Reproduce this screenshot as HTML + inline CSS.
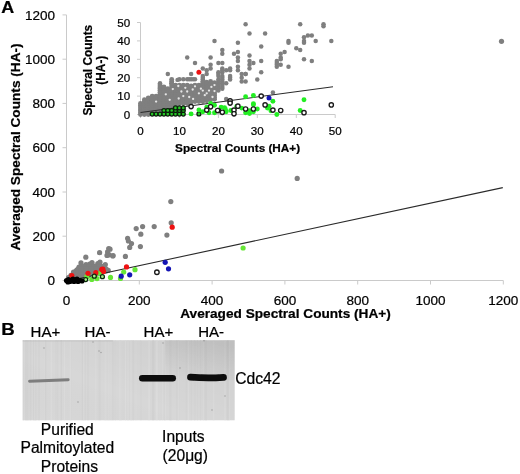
<!DOCTYPE html>
<html><head><meta charset="utf-8"><style>
html,body{margin:0;padding:0;background:#fff;}
svg{display:block;filter:blur(0.3px);}
text{font-family:"Liberation Sans",sans-serif;stroke:#000;stroke-width:0.22px;}
</style></head><body>
<svg width="520" height="474" viewBox="0 0 520 474">
<rect width="520" height="474" fill="#fff"/>
<g stroke="#cacaca" stroke-width="1" fill="none">
<path d="M66.5 14.9V280.5H503.3"/>
<path d="M62.5 280.5H66.5"/>
<path d="M66.5 280.5V284.5"/>
<path d="M62.5 236.2H66.5"/>
<path d="M139.3 280.5V284.5"/>
<path d="M62.5 192.0H66.5"/>
<path d="M212.1 280.5V284.5"/>
<path d="M62.5 147.7H66.5"/>
<path d="M284.9 280.5V284.5"/>
<path d="M62.5 103.4H66.5"/>
<path d="M357.7 280.5V284.5"/>
<path d="M62.5 59.2H66.5"/>
<path d="M430.5 280.5V284.5"/>
<path d="M62.5 14.9H66.5"/>
<path d="M503.3 280.5V284.5"/>
</g>
<g font-size="13.5" fill="#000">
<text x="55.1" y="285.1" text-anchor="end">0</text>
<text x="66.5" y="305.1" text-anchor="middle">0</text>
<text x="55.1" y="240.8" text-anchor="end">200</text>
<text x="139.3" y="305.1" text-anchor="middle">200</text>
<text x="55.1" y="196.6" text-anchor="end">400</text>
<text x="212.1" y="305.1" text-anchor="middle">400</text>
<text x="55.1" y="152.3" text-anchor="end">600</text>
<text x="284.9" y="305.1" text-anchor="middle">600</text>
<text x="55.1" y="108.0" text-anchor="end">800</text>
<text x="357.7" y="305.1" text-anchor="middle">800</text>
<text x="55.1" y="63.8" text-anchor="end">1000</text>
<text x="430.5" y="305.1" text-anchor="middle">1000</text>
<text x="55.1" y="19.5" text-anchor="end">1200</text>
<text x="503.3" y="305.1" text-anchor="middle">1200</text>
</g>
<text x="285.5" y="317.7" text-anchor="middle" font-size="13.65" font-weight="bold">Averaged Spectral Counts (HA+)</text>
<text transform="translate(20 147) rotate(-90)" text-anchor="middle" font-size="13.65" font-weight="bold">Averaged Spectral Counts (HA-)</text>
<circle cx="501.5" cy="41.3" r="2.6" fill="#7f7f7f"/>
<circle cx="221.6" cy="171.0" r="2.6" fill="#7f7f7f"/>
<circle cx="297.2" cy="178.4" r="2.6" fill="#7f7f7f"/>
<circle cx="170.8" cy="201.6" r="2.6" fill="#7f7f7f"/>
<circle cx="171.2" cy="222.8" r="2.6" fill="#7f7f7f"/>
<circle cx="142.6" cy="226.6" r="2.6" fill="#7f7f7f"/>
<circle cx="136.2" cy="228.6" r="2.6" fill="#7f7f7f"/>
<circle cx="154.2" cy="226.6" r="2.6" fill="#7f7f7f"/>
<circle cx="140.8" cy="234.2" r="2.6" fill="#7f7f7f"/>
<circle cx="166.9" cy="235.1" r="2.6" fill="#7f7f7f"/>
<circle cx="127.6" cy="238.3" r="2.6" fill="#7f7f7f"/>
<circle cx="128.4" cy="241.0" r="2.6" fill="#7f7f7f"/>
<circle cx="131.5" cy="243.6" r="2.6" fill="#7f7f7f"/>
<circle cx="129.7" cy="247.4" r="2.6" fill="#7f7f7f"/>
<circle cx="140.4" cy="246.6" r="2.6" fill="#7f7f7f"/>
<circle cx="125.4" cy="256.4" r="2.6" fill="#7f7f7f"/>
<circle cx="113.1" cy="255.6" r="2.6" fill="#7f7f7f"/>
<circle cx="110.0" cy="249.2" r="2.6" fill="#7f7f7f"/>
<circle cx="108.7" cy="248.5" r="2.6" fill="#7f7f7f"/>
<circle cx="107.6" cy="251.9" r="2.6" fill="#7f7f7f"/>
<circle cx="99.6" cy="252.7" r="2.6" fill="#7f7f7f"/>
<circle cx="109.3" cy="254.8" r="2.6" fill="#7f7f7f"/>
<circle cx="112.8" cy="256.0" r="2.6" fill="#7f7f7f"/>
<circle cx="107.0" cy="255.4" r="2.6" fill="#7f7f7f"/>
<circle cx="85.8" cy="257.2" r="2.6" fill="#7f7f7f"/>
<circle cx="81.0" cy="262.9" r="2.6" fill="#7f7f7f"/>
<circle cx="89.7" cy="264.0" r="2.6" fill="#7f7f7f"/>
<circle cx="97.8" cy="263.5" r="2.6" fill="#7f7f7f"/>
<circle cx="105.3" cy="264.6" r="2.6" fill="#7f7f7f"/>
<circle cx="77.0" cy="269.8" r="2.6" fill="#7f7f7f"/>
<circle cx="85.0" cy="267.5" r="2.6" fill="#7f7f7f"/>
<circle cx="92.0" cy="268.7" r="2.6" fill="#7f7f7f"/>
<circle cx="73.5" cy="272.1" r="2.6" fill="#7f7f7f"/>
<circle cx="108.2" cy="270.4" r="2.6" fill="#7f7f7f"/>
<circle cx="101.0" cy="266.0" r="2.6" fill="#7f7f7f"/>
<circle cx="94.0" cy="266.0" r="2.6" fill="#7f7f7f"/>
<circle cx="88.0" cy="270.0" r="2.6" fill="#7f7f7f"/>
<circle cx="80.0" cy="272.0" r="2.6" fill="#7f7f7f"/>
<circle cx="84.0" cy="273.5" r="2.6" fill="#7f7f7f"/>
<circle cx="76.0" cy="275.0" r="2.6" fill="#7f7f7f"/>
<circle cx="70.0" cy="277.0" r="2.6" fill="#7f7f7f"/>
<circle cx="96.0" cy="269.5" r="2.6" fill="#7f7f7f"/>
<circle cx="92.0" cy="262.5" r="2.6" fill="#7f7f7f"/>
<circle cx="86.0" cy="264.5" r="2.6" fill="#7f7f7f"/>
<circle cx="100.0" cy="262.0" r="2.6" fill="#7f7f7f"/>
<circle cx="104.0" cy="268.0" r="2.6" fill="#7f7f7f"/>
<circle cx="79.0" cy="267.0" r="2.6" fill="#7f7f7f"/>
<circle cx="82.0" cy="270.0" r="2.6" fill="#7f7f7f"/>
<circle cx="81.0" cy="266.6" r="2.6" fill="#7f7f7f"/>
<circle cx="83.5" cy="266.6" r="2.6" fill="#7f7f7f"/>
<circle cx="86.0" cy="266.6" r="2.6" fill="#7f7f7f"/>
<circle cx="88.5" cy="266.6" r="2.6" fill="#7f7f7f"/>
<circle cx="91.0" cy="266.6" r="2.6" fill="#7f7f7f"/>
<circle cx="93.5" cy="266.6" r="2.6" fill="#7f7f7f"/>
<circle cx="96.0" cy="266.6" r="2.6" fill="#7f7f7f"/>
<circle cx="98.5" cy="266.6" r="2.6" fill="#7f7f7f"/>
<circle cx="101.0" cy="266.6" r="2.6" fill="#7f7f7f"/>
<circle cx="103.5" cy="266.6" r="2.6" fill="#7f7f7f"/>
<circle cx="78.5" cy="268.8" r="2.6" fill="#7f7f7f"/>
<circle cx="81.0" cy="268.8" r="2.6" fill="#7f7f7f"/>
<circle cx="83.5" cy="268.8" r="2.6" fill="#7f7f7f"/>
<circle cx="86.0" cy="268.8" r="2.6" fill="#7f7f7f"/>
<circle cx="88.5" cy="268.8" r="2.6" fill="#7f7f7f"/>
<circle cx="91.0" cy="268.8" r="2.6" fill="#7f7f7f"/>
<circle cx="93.5" cy="268.8" r="2.6" fill="#7f7f7f"/>
<circle cx="96.0" cy="268.8" r="2.6" fill="#7f7f7f"/>
<circle cx="98.5" cy="268.8" r="2.6" fill="#7f7f7f"/>
<circle cx="101.0" cy="268.8" r="2.6" fill="#7f7f7f"/>
<circle cx="103.5" cy="268.8" r="2.6" fill="#7f7f7f"/>
<circle cx="106.0" cy="268.8" r="2.6" fill="#7f7f7f"/>
<circle cx="76.0" cy="271.0" r="2.6" fill="#7f7f7f"/>
<circle cx="78.5" cy="271.0" r="2.6" fill="#7f7f7f"/>
<circle cx="81.0" cy="271.0" r="2.6" fill="#7f7f7f"/>
<circle cx="83.5" cy="271.0" r="2.6" fill="#7f7f7f"/>
<circle cx="86.0" cy="271.0" r="2.6" fill="#7f7f7f"/>
<circle cx="88.5" cy="271.0" r="2.6" fill="#7f7f7f"/>
<circle cx="91.0" cy="271.0" r="2.6" fill="#7f7f7f"/>
<circle cx="93.5" cy="271.0" r="2.6" fill="#7f7f7f"/>
<circle cx="96.0" cy="271.0" r="2.6" fill="#7f7f7f"/>
<circle cx="98.5" cy="271.0" r="2.6" fill="#7f7f7f"/>
<circle cx="101.0" cy="271.0" r="2.6" fill="#7f7f7f"/>
<circle cx="103.5" cy="271.0" r="2.6" fill="#7f7f7f"/>
<circle cx="106.0" cy="271.0" r="2.6" fill="#7f7f7f"/>
<circle cx="73.5" cy="273.2" r="2.6" fill="#7f7f7f"/>
<circle cx="76.0" cy="273.2" r="2.6" fill="#7f7f7f"/>
<circle cx="78.5" cy="273.2" r="2.6" fill="#7f7f7f"/>
<circle cx="81.0" cy="273.2" r="2.6" fill="#7f7f7f"/>
<circle cx="83.5" cy="273.2" r="2.6" fill="#7f7f7f"/>
<circle cx="86.0" cy="273.2" r="2.6" fill="#7f7f7f"/>
<circle cx="88.5" cy="273.2" r="2.6" fill="#7f7f7f"/>
<circle cx="91.0" cy="273.2" r="2.6" fill="#7f7f7f"/>
<circle cx="93.5" cy="273.2" r="2.6" fill="#7f7f7f"/>
<circle cx="96.0" cy="273.2" r="2.6" fill="#7f7f7f"/>
<circle cx="98.5" cy="273.2" r="2.6" fill="#7f7f7f"/>
<circle cx="101.0" cy="273.2" r="2.6" fill="#7f7f7f"/>
<circle cx="71.0" cy="275.4" r="2.6" fill="#7f7f7f"/>
<circle cx="73.5" cy="275.4" r="2.6" fill="#7f7f7f"/>
<circle cx="76.0" cy="275.4" r="2.6" fill="#7f7f7f"/>
<circle cx="78.5" cy="275.4" r="2.6" fill="#7f7f7f"/>
<circle cx="81.0" cy="275.4" r="2.6" fill="#7f7f7f"/>
<circle cx="83.5" cy="275.4" r="2.6" fill="#7f7f7f"/>
<circle cx="86.0" cy="275.4" r="2.6" fill="#7f7f7f"/>
<circle cx="88.5" cy="275.4" r="2.6" fill="#7f7f7f"/>
<circle cx="68.5" cy="277.6" r="2.6" fill="#7f7f7f"/>
<circle cx="71.0" cy="277.6" r="2.6" fill="#7f7f7f"/>
<circle cx="73.5" cy="277.6" r="2.6" fill="#7f7f7f"/>
<circle cx="76.0" cy="277.6" r="2.6" fill="#7f7f7f"/>
<circle cx="78.5" cy="277.6" r="2.6" fill="#7f7f7f"/>
<circle cx="81.0" cy="277.6" r="2.6" fill="#7f7f7f"/>
<circle cx="71.0" cy="279.8" r="2.6" fill="#7f7f7f"/>
<path d="M66.5 281.3L502.8 187.6" stroke="#2a2a2a" stroke-width="1.1" fill="none"/>
<circle cx="243.1" cy="248.0" r="2.6" fill="#66e636"/>
<circle cx="135.0" cy="269.7" r="2.6" fill="#66e636"/>
<circle cx="123.7" cy="272.0" r="2.6" fill="#66e636"/>
<circle cx="110.5" cy="277.4" r="2.6" fill="#66e636"/>
<circle cx="120.5" cy="278.5" r="2.6" fill="#66e636"/>
<circle cx="91.8" cy="279.4" r="2.6" fill="#66e636"/>
<circle cx="100.0" cy="273.3" r="2.6" fill="#66e636"/>
<circle cx="86.8" cy="276.7" r="2.6" fill="#66e636"/>
<circle cx="97.0" cy="278.6" r="2.6" fill="#66e636"/>
<circle cx="172.2" cy="227.2" r="2.6" fill="#ee1111"/>
<circle cx="126.5" cy="266.9" r="2.6" fill="#ee1111"/>
<circle cx="102.9" cy="269.2" r="2.6" fill="#ee1111"/>
<circle cx="95.8" cy="272.7" r="2.6" fill="#ee1111"/>
<circle cx="71.8" cy="275.6" r="2.6" fill="#ee1111"/>
<circle cx="88.0" cy="273.3" r="2.6" fill="#ee1111"/>
<circle cx="101.8" cy="269.4" r="2.6" fill="#ee1111"/>
<circle cx="103.5" cy="271.5" r="2.6" fill="#ee1111"/>
<circle cx="165.2" cy="262.3" r="2.6" fill="#1414b4"/>
<circle cx="168.5" cy="268.8" r="2.6" fill="#1414b4"/>
<circle cx="129.7" cy="274.8" r="2.6" fill="#1414b4"/>
<circle cx="121.2" cy="276.2" r="2.6" fill="#1414b4"/>
<circle cx="156.9" cy="272.2" r="2.25" fill="#fff" stroke="#1a1a1a" stroke-width="1.35"/>
<circle cx="102.4" cy="276.7" r="2.0" fill="#a8f08a" stroke="#0c2c0c" stroke-width="1.3"/>
<circle cx="94.3" cy="276.2" r="2.0" fill="#a8f08a" stroke="#0c2c0c" stroke-width="1.3"/>
<circle cx="85.7" cy="279.6" r="2.0" fill="#a8f08a" stroke="#0c2c0c" stroke-width="1.3"/>
<circle cx="66.5" cy="280.6" r="2.6" fill="#000"/>
<circle cx="68.5" cy="279.5" r="2.6" fill="#000"/>
<circle cx="70.0" cy="281.5" r="2.6" fill="#000"/>
<circle cx="72.0" cy="280.0" r="2.6" fill="#000"/>
<circle cx="74.0" cy="281.5" r="2.6" fill="#000"/>
<circle cx="76.0" cy="280.0" r="2.6" fill="#000"/>
<circle cx="78.0" cy="281.5" r="2.6" fill="#000"/>
<circle cx="80.0" cy="280.5" r="2.6" fill="#000"/>
<circle cx="82.0" cy="281.0" r="2.6" fill="#000"/>
<circle cx="68.0" cy="282.0" r="2.6" fill="#000"/>
<circle cx="73.0" cy="279.0" r="2.6" fill="#000"/>
<circle cx="77.0" cy="279.0" r="2.6" fill="#000"/>
<g stroke="#cacaca" stroke-width="1" fill="none">
<path d="M140.5 22.5V114.5H335.2"/>
<path d="M137.0 114.5H140.5"/>
<path d="M140.5 114.5V118.0"/>
<path d="M137.0 96.1H140.5"/>
<path d="M179.4 114.5V118.0"/>
<path d="M137.0 77.7H140.5"/>
<path d="M218.4 114.5V118.0"/>
<path d="M137.0 59.3H140.5"/>
<path d="M257.3 114.5V118.0"/>
<path d="M137.0 40.9H140.5"/>
<path d="M296.3 114.5V118.0"/>
<path d="M137.0 22.5H140.5"/>
<path d="M335.2 114.5V118.0"/>
</g>
<g font-size="11.6" fill="#000">
<text x="130.2" y="118.6" text-anchor="end">0</text>
<text x="140.5" y="135.4" text-anchor="middle">0</text>
<text x="130.2" y="100.2" text-anchor="end">10</text>
<text x="179.4" y="135.4" text-anchor="middle">10</text>
<text x="130.2" y="81.8" text-anchor="end">20</text>
<text x="218.4" y="135.4" text-anchor="middle">20</text>
<text x="130.2" y="63.4" text-anchor="end">30</text>
<text x="257.3" y="135.4" text-anchor="middle">30</text>
<text x="130.2" y="45.0" text-anchor="end">40</text>
<text x="296.3" y="135.4" text-anchor="middle">40</text>
<text x="130.2" y="26.6" text-anchor="end">50</text>
<text x="335.2" y="135.4" text-anchor="middle">50</text>
</g>
<text x="237.6" y="151.8" text-anchor="middle" font-size="11.75" font-weight="bold">Spectral Counts (HA+)</text>
<text transform="translate(92.2 70.2) rotate(-90)" text-anchor="middle" font-size="11.85" font-weight="bold">Spectral Counts</text>
<text transform="translate(105 70.2) rotate(-90)" text-anchor="middle" font-size="11.85" font-weight="bold">(HA-)</text>
<circle cx="300.2" cy="24.3" r="2.25" fill="#7f7f7f"/>
<circle cx="323.5" cy="24.3" r="2.25" fill="#7f7f7f"/>
<circle cx="323.5" cy="26.2" r="2.25" fill="#7f7f7f"/>
<circle cx="304.0" cy="37.2" r="2.25" fill="#7f7f7f"/>
<circle cx="307.9" cy="35.4" r="2.25" fill="#7f7f7f"/>
<circle cx="311.8" cy="35.4" r="2.25" fill="#7f7f7f"/>
<circle cx="304.0" cy="40.9" r="2.25" fill="#7f7f7f"/>
<circle cx="304.0" cy="42.7" r="2.25" fill="#7f7f7f"/>
<circle cx="315.7" cy="40.9" r="2.25" fill="#7f7f7f"/>
<circle cx="331.3" cy="40.9" r="2.25" fill="#7f7f7f"/>
<circle cx="288.5" cy="40.9" r="2.25" fill="#7f7f7f"/>
<circle cx="288.5" cy="42.7" r="2.25" fill="#7f7f7f"/>
<circle cx="296.3" cy="48.3" r="2.25" fill="#7f7f7f"/>
<circle cx="300.2" cy="50.1" r="2.25" fill="#7f7f7f"/>
<circle cx="284.6" cy="51.9" r="2.25" fill="#7f7f7f"/>
<circle cx="280.7" cy="53.8" r="2.25" fill="#7f7f7f"/>
<circle cx="280.7" cy="57.5" r="2.25" fill="#7f7f7f"/>
<circle cx="280.7" cy="59.3" r="2.25" fill="#7f7f7f"/>
<circle cx="276.8" cy="63.0" r="2.25" fill="#7f7f7f"/>
<circle cx="280.7" cy="64.8" r="2.25" fill="#7f7f7f"/>
<circle cx="276.8" cy="66.7" r="2.25" fill="#7f7f7f"/>
<circle cx="304.0" cy="59.3" r="2.25" fill="#7f7f7f"/>
<circle cx="311.8" cy="61.1" r="2.25" fill="#7f7f7f"/>
<circle cx="288.5" cy="66.7" r="2.25" fill="#7f7f7f"/>
<circle cx="245.6" cy="24.3" r="2.25" fill="#7f7f7f"/>
<circle cx="249.5" cy="33.5" r="2.25" fill="#7f7f7f"/>
<circle cx="265.1" cy="33.5" r="2.25" fill="#7f7f7f"/>
<circle cx="214.5" cy="40.9" r="2.25" fill="#7f7f7f"/>
<circle cx="237.9" cy="42.7" r="2.25" fill="#7f7f7f"/>
<circle cx="261.2" cy="46.4" r="2.25" fill="#7f7f7f"/>
<circle cx="222.3" cy="50.1" r="2.25" fill="#7f7f7f"/>
<circle cx="222.3" cy="53.8" r="2.25" fill="#7f7f7f"/>
<circle cx="234.0" cy="53.8" r="2.25" fill="#7f7f7f"/>
<circle cx="237.9" cy="51.9" r="2.25" fill="#7f7f7f"/>
<circle cx="210.6" cy="57.5" r="2.25" fill="#7f7f7f"/>
<circle cx="249.5" cy="55.6" r="2.25" fill="#7f7f7f"/>
<circle cx="261.2" cy="61.1" r="2.25" fill="#7f7f7f"/>
<circle cx="237.9" cy="61.1" r="2.25" fill="#7f7f7f"/>
<circle cx="237.9" cy="66.7" r="2.25" fill="#7f7f7f"/>
<circle cx="237.9" cy="70.3" r="2.25" fill="#7f7f7f"/>
<circle cx="249.5" cy="61.1" r="2.25" fill="#7f7f7f"/>
<circle cx="253.4" cy="63.0" r="2.25" fill="#7f7f7f"/>
<circle cx="249.5" cy="64.8" r="2.25" fill="#7f7f7f"/>
<circle cx="249.5" cy="68.5" r="2.25" fill="#7f7f7f"/>
<circle cx="218.4" cy="63.0" r="2.25" fill="#7f7f7f"/>
<circle cx="222.3" cy="63.0" r="2.25" fill="#7f7f7f"/>
<circle cx="210.6" cy="64.8" r="2.25" fill="#7f7f7f"/>
<circle cx="210.6" cy="68.5" r="2.25" fill="#7f7f7f"/>
<circle cx="222.3" cy="68.5" r="2.25" fill="#7f7f7f"/>
<circle cx="226.2" cy="70.3" r="2.25" fill="#7f7f7f"/>
<circle cx="230.1" cy="68.5" r="2.25" fill="#7f7f7f"/>
<circle cx="230.1" cy="70.3" r="2.25" fill="#7f7f7f"/>
<circle cx="218.4" cy="72.2" r="2.25" fill="#7f7f7f"/>
<circle cx="218.4" cy="74.0" r="2.25" fill="#7f7f7f"/>
<circle cx="261.2" cy="72.2" r="2.25" fill="#7f7f7f"/>
<circle cx="245.6" cy="74.0" r="2.25" fill="#7f7f7f"/>
<circle cx="276.8" cy="61.1" r="2.25" fill="#7f7f7f"/>
<circle cx="276.8" cy="64.8" r="2.25" fill="#7f7f7f"/>
<circle cx="237.9" cy="57.5" r="2.25" fill="#7f7f7f"/>
<circle cx="187.2" cy="57.5" r="2.25" fill="#7f7f7f"/>
<circle cx="195.0" cy="63.0" r="2.25" fill="#7f7f7f"/>
<circle cx="202.8" cy="68.5" r="2.25" fill="#7f7f7f"/>
<circle cx="206.7" cy="70.3" r="2.25" fill="#7f7f7f"/>
<circle cx="206.7" cy="74.0" r="2.25" fill="#7f7f7f"/>
<circle cx="191.1" cy="74.0" r="2.25" fill="#7f7f7f"/>
<circle cx="167.8" cy="74.0" r="2.25" fill="#7f7f7f"/>
<circle cx="202.8" cy="75.9" r="2.25" fill="#7f7f7f"/>
<circle cx="202.8" cy="77.7" r="2.25" fill="#7f7f7f"/>
<circle cx="257.3" cy="79.5" r="2.25" fill="#7f7f7f"/>
<circle cx="245.6" cy="81.4" r="2.25" fill="#7f7f7f"/>
<circle cx="272.9" cy="92.4" r="2.25" fill="#7f7f7f"/>
<circle cx="160.0" cy="83.2" r="2.25" fill="#7f7f7f"/>
<circle cx="171.7" cy="83.2" r="2.25" fill="#7f7f7f"/>
<circle cx="222.3" cy="72.2" r="2.25" fill="#7f7f7f"/>
<circle cx="222.3" cy="70.3" r="2.25" fill="#7f7f7f"/>
<circle cx="218.4" cy="75.9" r="2.25" fill="#7f7f7f"/>
<circle cx="222.3" cy="75.9" r="2.25" fill="#7f7f7f"/>
<circle cx="222.3" cy="77.7" r="2.25" fill="#7f7f7f"/>
<circle cx="222.3" cy="79.5" r="2.25" fill="#7f7f7f"/>
<circle cx="222.3" cy="81.4" r="2.25" fill="#7f7f7f"/>
<circle cx="222.3" cy="83.2" r="2.25" fill="#7f7f7f"/>
<circle cx="222.3" cy="85.1" r="2.25" fill="#7f7f7f"/>
<circle cx="222.3" cy="86.9" r="2.25" fill="#7f7f7f"/>
<circle cx="222.3" cy="88.7" r="2.25" fill="#7f7f7f"/>
<circle cx="226.2" cy="83.2" r="2.25" fill="#7f7f7f"/>
<circle cx="230.1" cy="79.5" r="2.25" fill="#7f7f7f"/>
<circle cx="230.1" cy="77.7" r="2.25" fill="#7f7f7f"/>
<circle cx="230.1" cy="75.9" r="2.25" fill="#7f7f7f"/>
<circle cx="218.4" cy="79.5" r="2.25" fill="#7f7f7f"/>
<circle cx="218.4" cy="81.4" r="2.25" fill="#7f7f7f"/>
<circle cx="218.4" cy="83.2" r="2.25" fill="#7f7f7f"/>
<circle cx="218.4" cy="85.1" r="2.25" fill="#7f7f7f"/>
<circle cx="218.4" cy="86.9" r="2.25" fill="#7f7f7f"/>
<circle cx="218.4" cy="88.7" r="2.25" fill="#7f7f7f"/>
<circle cx="218.4" cy="90.6" r="2.25" fill="#7f7f7f"/>
<circle cx="241.7" cy="81.4" r="2.25" fill="#7f7f7f"/>
<circle cx="241.7" cy="77.7" r="2.25" fill="#7f7f7f"/>
<circle cx="241.7" cy="74.0" r="2.25" fill="#7f7f7f"/>
<circle cx="226.2" cy="98.9" r="2.25" fill="#7f7f7f"/>
<circle cx="245.6" cy="74.0" r="2.25" fill="#7f7f7f"/>
<circle cx="179.4" cy="79.2" r="2.25" fill="#7f7f7f"/>
<circle cx="183.3" cy="79.2" r="2.25" fill="#7f7f7f"/>
<circle cx="187.2" cy="79.2" r="2.25" fill="#7f7f7f"/>
<circle cx="191.1" cy="79.2" r="2.25" fill="#7f7f7f"/>
<circle cx="195.0" cy="79.2" r="2.25" fill="#7f7f7f"/>
<circle cx="202.8" cy="79.2" r="2.25" fill="#7f7f7f"/>
<circle cx="189.2" cy="79.2" r="2.25" fill="#7f7f7f"/>
<circle cx="193.1" cy="79.2" r="2.25" fill="#7f7f7f"/>
<circle cx="140.5" cy="114.5" r="2.45" fill="#7f7f7f"/>
<circle cx="140.5" cy="112.7" r="2.45" fill="#7f7f7f"/>
<circle cx="140.5" cy="110.8" r="2.45" fill="#7f7f7f"/>
<circle cx="140.5" cy="109.0" r="2.45" fill="#7f7f7f"/>
<circle cx="140.5" cy="107.1" r="2.45" fill="#7f7f7f"/>
<circle cx="140.5" cy="105.3" r="2.45" fill="#7f7f7f"/>
<circle cx="140.5" cy="103.5" r="2.45" fill="#7f7f7f"/>
<circle cx="144.4" cy="114.5" r="2.45" fill="#7f7f7f"/>
<circle cx="144.4" cy="112.7" r="2.45" fill="#7f7f7f"/>
<circle cx="144.4" cy="110.8" r="2.45" fill="#7f7f7f"/>
<circle cx="144.4" cy="109.0" r="2.45" fill="#7f7f7f"/>
<circle cx="144.4" cy="107.1" r="2.45" fill="#7f7f7f"/>
<circle cx="144.4" cy="105.3" r="2.45" fill="#7f7f7f"/>
<circle cx="144.4" cy="103.5" r="2.45" fill="#7f7f7f"/>
<circle cx="144.4" cy="101.6" r="2.45" fill="#7f7f7f"/>
<circle cx="144.4" cy="99.8" r="2.45" fill="#7f7f7f"/>
<circle cx="148.3" cy="114.5" r="2.45" fill="#7f7f7f"/>
<circle cx="148.3" cy="112.7" r="2.45" fill="#7f7f7f"/>
<circle cx="148.3" cy="110.8" r="2.45" fill="#7f7f7f"/>
<circle cx="148.3" cy="109.0" r="2.45" fill="#7f7f7f"/>
<circle cx="148.3" cy="107.1" r="2.45" fill="#7f7f7f"/>
<circle cx="148.3" cy="105.3" r="2.45" fill="#7f7f7f"/>
<circle cx="148.3" cy="103.5" r="2.45" fill="#7f7f7f"/>
<circle cx="148.3" cy="101.6" r="2.45" fill="#7f7f7f"/>
<circle cx="148.3" cy="99.8" r="2.45" fill="#7f7f7f"/>
<circle cx="148.3" cy="97.9" r="2.45" fill="#7f7f7f"/>
<circle cx="152.2" cy="110.8" r="2.45" fill="#7f7f7f"/>
<circle cx="152.2" cy="109.0" r="2.45" fill="#7f7f7f"/>
<circle cx="152.2" cy="107.1" r="2.45" fill="#7f7f7f"/>
<circle cx="152.2" cy="105.3" r="2.45" fill="#7f7f7f"/>
<circle cx="152.2" cy="103.5" r="2.45" fill="#7f7f7f"/>
<circle cx="152.2" cy="101.6" r="2.45" fill="#7f7f7f"/>
<circle cx="152.2" cy="99.8" r="2.45" fill="#7f7f7f"/>
<circle cx="152.2" cy="97.9" r="2.45" fill="#7f7f7f"/>
<circle cx="152.2" cy="96.1" r="2.45" fill="#7f7f7f"/>
<circle cx="156.1" cy="110.8" r="2.45" fill="#7f7f7f"/>
<circle cx="156.1" cy="109.0" r="2.45" fill="#7f7f7f"/>
<circle cx="156.1" cy="107.1" r="2.45" fill="#7f7f7f"/>
<circle cx="156.1" cy="105.3" r="2.45" fill="#7f7f7f"/>
<circle cx="156.1" cy="103.5" r="2.45" fill="#7f7f7f"/>
<circle cx="156.1" cy="101.6" r="2.45" fill="#7f7f7f"/>
<circle cx="156.1" cy="99.8" r="2.45" fill="#7f7f7f"/>
<circle cx="156.1" cy="97.9" r="2.45" fill="#7f7f7f"/>
<circle cx="156.1" cy="96.1" r="2.45" fill="#7f7f7f"/>
<circle cx="160.0" cy="110.8" r="2.45" fill="#7f7f7f"/>
<circle cx="160.0" cy="109.0" r="2.45" fill="#7f7f7f"/>
<circle cx="160.0" cy="107.1" r="2.45" fill="#7f7f7f"/>
<circle cx="160.0" cy="105.3" r="2.45" fill="#7f7f7f"/>
<circle cx="160.0" cy="103.5" r="2.45" fill="#7f7f7f"/>
<circle cx="160.0" cy="101.6" r="2.45" fill="#7f7f7f"/>
<circle cx="160.0" cy="99.8" r="2.45" fill="#7f7f7f"/>
<circle cx="160.0" cy="97.9" r="2.45" fill="#7f7f7f"/>
<circle cx="160.0" cy="96.1" r="2.45" fill="#7f7f7f"/>
<circle cx="160.0" cy="94.3" r="2.45" fill="#7f7f7f"/>
<circle cx="160.0" cy="92.4" r="2.45" fill="#7f7f7f"/>
<circle cx="160.0" cy="90.6" r="2.45" fill="#7f7f7f"/>
<circle cx="160.0" cy="88.7" r="2.45" fill="#7f7f7f"/>
<circle cx="160.0" cy="86.9" r="2.45" fill="#7f7f7f"/>
<circle cx="160.0" cy="85.1" r="2.45" fill="#7f7f7f"/>
<circle cx="163.9" cy="109.0" r="2.45" fill="#7f7f7f"/>
<circle cx="163.9" cy="107.1" r="2.45" fill="#7f7f7f"/>
<circle cx="163.9" cy="105.3" r="2.45" fill="#7f7f7f"/>
<circle cx="163.9" cy="103.5" r="2.45" fill="#7f7f7f"/>
<circle cx="163.9" cy="101.6" r="2.45" fill="#7f7f7f"/>
<circle cx="163.9" cy="99.8" r="2.45" fill="#7f7f7f"/>
<circle cx="163.9" cy="97.9" r="2.45" fill="#7f7f7f"/>
<circle cx="163.9" cy="96.1" r="2.45" fill="#7f7f7f"/>
<circle cx="163.9" cy="94.3" r="2.45" fill="#7f7f7f"/>
<circle cx="163.9" cy="92.4" r="2.45" fill="#7f7f7f"/>
<circle cx="163.9" cy="90.6" r="2.45" fill="#7f7f7f"/>
<circle cx="163.9" cy="88.7" r="2.45" fill="#7f7f7f"/>
<circle cx="163.9" cy="86.9" r="2.45" fill="#7f7f7f"/>
<circle cx="167.8" cy="109.0" r="2.45" fill="#7f7f7f"/>
<circle cx="167.8" cy="107.1" r="2.45" fill="#7f7f7f"/>
<circle cx="167.8" cy="105.3" r="2.45" fill="#7f7f7f"/>
<circle cx="167.8" cy="103.5" r="2.45" fill="#7f7f7f"/>
<circle cx="167.8" cy="101.6" r="2.45" fill="#7f7f7f"/>
<circle cx="167.8" cy="99.8" r="2.45" fill="#7f7f7f"/>
<circle cx="167.8" cy="97.9" r="2.45" fill="#7f7f7f"/>
<circle cx="167.8" cy="96.1" r="2.45" fill="#7f7f7f"/>
<circle cx="167.8" cy="94.3" r="2.45" fill="#7f7f7f"/>
<circle cx="167.8" cy="92.4" r="2.45" fill="#7f7f7f"/>
<circle cx="167.8" cy="90.6" r="2.45" fill="#7f7f7f"/>
<circle cx="167.8" cy="88.7" r="2.45" fill="#7f7f7f"/>
<circle cx="171.7" cy="107.1" r="2.45" fill="#7f7f7f"/>
<circle cx="171.7" cy="105.3" r="2.45" fill="#7f7f7f"/>
<circle cx="171.7" cy="103.5" r="2.45" fill="#7f7f7f"/>
<circle cx="171.7" cy="101.6" r="2.45" fill="#7f7f7f"/>
<circle cx="171.7" cy="99.8" r="2.45" fill="#7f7f7f"/>
<circle cx="171.7" cy="97.9" r="2.45" fill="#7f7f7f"/>
<circle cx="171.7" cy="96.1" r="2.45" fill="#7f7f7f"/>
<circle cx="171.7" cy="94.3" r="2.45" fill="#7f7f7f"/>
<circle cx="171.7" cy="92.4" r="2.45" fill="#7f7f7f"/>
<circle cx="171.7" cy="90.6" r="2.45" fill="#7f7f7f"/>
<circle cx="171.7" cy="88.7" r="2.45" fill="#7f7f7f"/>
<circle cx="171.7" cy="86.9" r="2.45" fill="#7f7f7f"/>
<circle cx="171.7" cy="85.1" r="2.45" fill="#7f7f7f"/>
<circle cx="171.7" cy="83.2" r="2.45" fill="#7f7f7f"/>
<circle cx="171.7" cy="81.4" r="2.45" fill="#7f7f7f"/>
<circle cx="171.7" cy="79.5" r="2.45" fill="#7f7f7f"/>
<circle cx="175.5" cy="105.3" r="2.45" fill="#7f7f7f"/>
<circle cx="175.5" cy="103.5" r="2.45" fill="#7f7f7f"/>
<circle cx="175.5" cy="101.6" r="2.45" fill="#7f7f7f"/>
<circle cx="175.5" cy="99.8" r="2.45" fill="#7f7f7f"/>
<circle cx="175.5" cy="97.9" r="2.45" fill="#7f7f7f"/>
<circle cx="175.5" cy="96.1" r="2.45" fill="#7f7f7f"/>
<circle cx="175.5" cy="94.3" r="2.45" fill="#7f7f7f"/>
<circle cx="175.5" cy="92.4" r="2.45" fill="#7f7f7f"/>
<circle cx="175.5" cy="90.6" r="2.45" fill="#7f7f7f"/>
<circle cx="175.5" cy="88.7" r="2.45" fill="#7f7f7f"/>
<circle cx="175.5" cy="86.9" r="2.45" fill="#7f7f7f"/>
<circle cx="175.5" cy="85.1" r="2.45" fill="#7f7f7f"/>
<circle cx="179.4" cy="103.5" r="2.45" fill="#7f7f7f"/>
<circle cx="179.4" cy="101.6" r="2.45" fill="#7f7f7f"/>
<circle cx="179.4" cy="99.8" r="2.45" fill="#7f7f7f"/>
<circle cx="179.4" cy="97.9" r="2.45" fill="#7f7f7f"/>
<circle cx="179.4" cy="96.1" r="2.45" fill="#7f7f7f"/>
<circle cx="179.4" cy="94.3" r="2.45" fill="#7f7f7f"/>
<circle cx="179.4" cy="92.4" r="2.45" fill="#7f7f7f"/>
<circle cx="179.4" cy="90.6" r="2.45" fill="#7f7f7f"/>
<circle cx="179.4" cy="88.7" r="2.45" fill="#7f7f7f"/>
<circle cx="179.4" cy="86.9" r="2.45" fill="#7f7f7f"/>
<circle cx="179.4" cy="85.1" r="2.45" fill="#7f7f7f"/>
<circle cx="183.3" cy="103.5" r="2.45" fill="#7f7f7f"/>
<circle cx="183.3" cy="101.6" r="2.45" fill="#7f7f7f"/>
<circle cx="183.3" cy="99.8" r="2.45" fill="#7f7f7f"/>
<circle cx="183.3" cy="97.9" r="2.45" fill="#7f7f7f"/>
<circle cx="183.3" cy="96.1" r="2.45" fill="#7f7f7f"/>
<circle cx="183.3" cy="94.3" r="2.45" fill="#7f7f7f"/>
<circle cx="183.3" cy="92.4" r="2.45" fill="#7f7f7f"/>
<circle cx="183.3" cy="90.6" r="2.45" fill="#7f7f7f"/>
<circle cx="183.3" cy="88.7" r="2.45" fill="#7f7f7f"/>
<circle cx="183.3" cy="86.9" r="2.45" fill="#7f7f7f"/>
<circle cx="183.3" cy="85.1" r="2.45" fill="#7f7f7f"/>
<circle cx="187.2" cy="103.5" r="2.45" fill="#7f7f7f"/>
<circle cx="187.2" cy="101.6" r="2.45" fill="#7f7f7f"/>
<circle cx="187.2" cy="99.8" r="2.45" fill="#7f7f7f"/>
<circle cx="187.2" cy="97.9" r="2.45" fill="#7f7f7f"/>
<circle cx="187.2" cy="96.1" r="2.45" fill="#7f7f7f"/>
<circle cx="187.2" cy="94.3" r="2.45" fill="#7f7f7f"/>
<circle cx="187.2" cy="92.4" r="2.45" fill="#7f7f7f"/>
<circle cx="187.2" cy="90.6" r="2.45" fill="#7f7f7f"/>
<circle cx="187.2" cy="88.7" r="2.45" fill="#7f7f7f"/>
<circle cx="187.2" cy="86.9" r="2.45" fill="#7f7f7f"/>
<circle cx="187.2" cy="85.1" r="2.45" fill="#7f7f7f"/>
<circle cx="191.1" cy="102.5" r="2.45" fill="#7f7f7f"/>
<circle cx="191.1" cy="100.7" r="2.45" fill="#7f7f7f"/>
<circle cx="191.1" cy="98.9" r="2.45" fill="#7f7f7f"/>
<circle cx="191.1" cy="97.0" r="2.45" fill="#7f7f7f"/>
<circle cx="191.1" cy="95.2" r="2.45" fill="#7f7f7f"/>
<circle cx="191.1" cy="93.3" r="2.45" fill="#7f7f7f"/>
<circle cx="191.1" cy="91.5" r="2.45" fill="#7f7f7f"/>
<circle cx="191.1" cy="89.7" r="2.45" fill="#7f7f7f"/>
<circle cx="191.1" cy="87.8" r="2.45" fill="#7f7f7f"/>
<circle cx="191.1" cy="86.0" r="2.45" fill="#7f7f7f"/>
<circle cx="195.0" cy="101.6" r="2.45" fill="#7f7f7f"/>
<circle cx="195.0" cy="99.8" r="2.45" fill="#7f7f7f"/>
<circle cx="195.0" cy="97.9" r="2.45" fill="#7f7f7f"/>
<circle cx="195.0" cy="96.1" r="2.45" fill="#7f7f7f"/>
<circle cx="195.0" cy="94.3" r="2.45" fill="#7f7f7f"/>
<circle cx="195.0" cy="92.4" r="2.45" fill="#7f7f7f"/>
<circle cx="195.0" cy="90.6" r="2.45" fill="#7f7f7f"/>
<circle cx="195.0" cy="88.7" r="2.45" fill="#7f7f7f"/>
<circle cx="195.0" cy="86.9" r="2.45" fill="#7f7f7f"/>
<circle cx="195.0" cy="85.1" r="2.45" fill="#7f7f7f"/>
<circle cx="198.9" cy="101.6" r="2.45" fill="#7f7f7f"/>
<circle cx="198.9" cy="99.8" r="2.45" fill="#7f7f7f"/>
<circle cx="198.9" cy="97.9" r="2.45" fill="#7f7f7f"/>
<circle cx="198.9" cy="96.1" r="2.45" fill="#7f7f7f"/>
<circle cx="198.9" cy="94.3" r="2.45" fill="#7f7f7f"/>
<circle cx="198.9" cy="92.4" r="2.45" fill="#7f7f7f"/>
<circle cx="198.9" cy="90.6" r="2.45" fill="#7f7f7f"/>
<circle cx="198.9" cy="88.7" r="2.45" fill="#7f7f7f"/>
<circle cx="198.9" cy="86.9" r="2.45" fill="#7f7f7f"/>
<circle cx="198.9" cy="85.1" r="2.45" fill="#7f7f7f"/>
<circle cx="202.8" cy="101.6" r="2.45" fill="#7f7f7f"/>
<circle cx="202.8" cy="99.8" r="2.45" fill="#7f7f7f"/>
<circle cx="202.8" cy="97.9" r="2.45" fill="#7f7f7f"/>
<circle cx="202.8" cy="96.1" r="2.45" fill="#7f7f7f"/>
<circle cx="202.8" cy="94.3" r="2.45" fill="#7f7f7f"/>
<circle cx="202.8" cy="92.4" r="2.45" fill="#7f7f7f"/>
<circle cx="202.8" cy="90.6" r="2.45" fill="#7f7f7f"/>
<circle cx="202.8" cy="88.7" r="2.45" fill="#7f7f7f"/>
<circle cx="202.8" cy="86.9" r="2.45" fill="#7f7f7f"/>
<circle cx="202.8" cy="85.1" r="2.45" fill="#7f7f7f"/>
<circle cx="202.8" cy="83.2" r="2.45" fill="#7f7f7f"/>
<circle cx="202.8" cy="81.4" r="2.45" fill="#7f7f7f"/>
<circle cx="206.7" cy="100.7" r="2.45" fill="#7f7f7f"/>
<circle cx="206.7" cy="98.9" r="2.45" fill="#7f7f7f"/>
<circle cx="206.7" cy="97.0" r="2.45" fill="#7f7f7f"/>
<circle cx="206.7" cy="95.2" r="2.45" fill="#7f7f7f"/>
<circle cx="206.7" cy="93.3" r="2.45" fill="#7f7f7f"/>
<circle cx="206.7" cy="91.5" r="2.45" fill="#7f7f7f"/>
<circle cx="206.7" cy="89.7" r="2.45" fill="#7f7f7f"/>
<circle cx="206.7" cy="87.8" r="2.45" fill="#7f7f7f"/>
<circle cx="206.7" cy="86.0" r="2.45" fill="#7f7f7f"/>
<circle cx="206.7" cy="84.1" r="2.45" fill="#7f7f7f"/>
<circle cx="206.7" cy="82.3" r="2.45" fill="#7f7f7f"/>
<circle cx="210.6" cy="99.8" r="2.45" fill="#7f7f7f"/>
<circle cx="210.6" cy="97.9" r="2.45" fill="#7f7f7f"/>
<circle cx="210.6" cy="96.1" r="2.45" fill="#7f7f7f"/>
<circle cx="210.6" cy="94.3" r="2.45" fill="#7f7f7f"/>
<circle cx="210.6" cy="92.4" r="2.45" fill="#7f7f7f"/>
<circle cx="210.6" cy="90.6" r="2.45" fill="#7f7f7f"/>
<circle cx="210.6" cy="88.7" r="2.45" fill="#7f7f7f"/>
<circle cx="210.6" cy="86.9" r="2.45" fill="#7f7f7f"/>
<circle cx="210.6" cy="85.1" r="2.45" fill="#7f7f7f"/>
<circle cx="210.6" cy="83.2" r="2.45" fill="#7f7f7f"/>
<circle cx="210.6" cy="81.4" r="2.45" fill="#7f7f7f"/>
<circle cx="214.5" cy="99.2" r="2.45" fill="#7f7f7f"/>
<circle cx="214.5" cy="97.4" r="2.45" fill="#7f7f7f"/>
<circle cx="214.5" cy="95.5" r="2.45" fill="#7f7f7f"/>
<circle cx="214.5" cy="93.7" r="2.45" fill="#7f7f7f"/>
<circle cx="214.5" cy="91.9" r="2.45" fill="#7f7f7f"/>
<circle cx="214.5" cy="90.0" r="2.45" fill="#7f7f7f"/>
<circle cx="214.5" cy="88.2" r="2.45" fill="#7f7f7f"/>
<circle cx="214.5" cy="86.3" r="2.45" fill="#7f7f7f"/>
<circle cx="214.5" cy="84.5" r="2.45" fill="#7f7f7f"/>
<circle cx="214.5" cy="82.7" r="2.45" fill="#7f7f7f"/>
<circle cx="177.5" cy="79.9" r="2.2" fill="#7f7f7f"/>
<circle cx="175.5" cy="85.1" r="2.2" fill="#7f7f7f"/>
<circle cx="211.4" cy="86.9" r="1.15" fill="#e6e6e6"/>
<circle cx="192.7" cy="89.5" r="1.15" fill="#e6e6e6"/>
<circle cx="198.9" cy="93.3" r="1.15" fill="#e6e6e6"/>
<circle cx="178.3" cy="86.0" r="1.15" fill="#e6e6e6"/>
<circle cx="204.8" cy="95.2" r="1.15" fill="#e6e6e6"/>
<circle cx="172.8" cy="89.1" r="1.15" fill="#e6e6e6"/>
<circle cx="178.7" cy="98.5" r="1.15" fill="#e6e6e6"/>
<circle cx="187.2" cy="91.5" r="1.15" fill="#e6e6e6"/>
<circle cx="209.0" cy="90.6" r="1.15" fill="#e6e6e6"/>
<circle cx="183.3" cy="96.1" r="1.15" fill="#e6e6e6"/>
<circle cx="214.5" cy="91.1" r="1.15" fill="#e6e6e6"/>
<circle cx="181.4" cy="91.5" r="1.15" fill="#e6e6e6"/>
<circle cx="189.2" cy="97.0" r="1.15" fill="#e6e6e6"/>
<circle cx="195.0" cy="86.3" r="1.15" fill="#e6e6e6"/>
<circle cx="206.7" cy="93.3" r="1.15" fill="#e6e6e6"/>
<circle cx="212.5" cy="97.0" r="1.15" fill="#e6e6e6"/>
<circle cx="200.9" cy="88.7" r="1.15" fill="#e6e6e6"/>
<circle cx="185.3" cy="87.8" r="1.15" fill="#e6e6e6"/>
<circle cx="165.8" cy="94.3" r="1.15" fill="#e6e6e6"/>
<circle cx="156.1" cy="101.6" r="1.15" fill="#e6e6e6"/>
<circle cx="169.7" cy="99.8" r="1.15" fill="#e6e6e6"/>
<circle cx="193.1" cy="98.9" r="1.15" fill="#e6e6e6"/>
<circle cx="202.8" cy="90.6" r="1.15" fill="#e6e6e6"/>
<circle cx="214.5" cy="85.1" r="1.15" fill="#e6e6e6"/>
<path d="M140.5 112.5L333 86.8" stroke="#2a2a2a" stroke-width="1.1" fill="none"/>
<circle cx="152.2" cy="114.1" r="1.95" fill="#26c826" stroke="#0a1f0a" stroke-width="1.25"/>
<circle cx="156.1" cy="114.1" r="1.95" fill="#26c826" stroke="#0a1f0a" stroke-width="1.25"/>
<circle cx="160.0" cy="114.1" r="1.95" fill="#26c826" stroke="#0a1f0a" stroke-width="1.25"/>
<circle cx="163.9" cy="114.1" r="1.95" fill="#26c826" stroke="#0a1f0a" stroke-width="1.25"/>
<circle cx="167.8" cy="114.1" r="1.95" fill="#26c826" stroke="#0a1f0a" stroke-width="1.25"/>
<circle cx="171.7" cy="114.1" r="1.95" fill="#26c826" stroke="#0a1f0a" stroke-width="1.25"/>
<circle cx="175.5" cy="114.1" r="1.95" fill="#26c826" stroke="#0a1f0a" stroke-width="1.25"/>
<circle cx="179.4" cy="114.1" r="1.95" fill="#26c826" stroke="#0a1f0a" stroke-width="1.25"/>
<circle cx="183.3" cy="114.1" r="1.95" fill="#26c826" stroke="#0a1f0a" stroke-width="1.25"/>
<circle cx="163.9" cy="110.5" r="1.95" fill="#26c826" stroke="#0a1f0a" stroke-width="1.25"/>
<circle cx="167.8" cy="110.5" r="1.95" fill="#26c826" stroke="#0a1f0a" stroke-width="1.25"/>
<circle cx="171.7" cy="110.5" r="1.95" fill="#26c826" stroke="#0a1f0a" stroke-width="1.25"/>
<circle cx="175.5" cy="110.5" r="1.95" fill="#26c826" stroke="#0a1f0a" stroke-width="1.25"/>
<circle cx="179.4" cy="110.5" r="1.95" fill="#26c826" stroke="#0a1f0a" stroke-width="1.25"/>
<circle cx="183.3" cy="110.5" r="1.95" fill="#26c826" stroke="#0a1f0a" stroke-width="1.25"/>
<circle cx="175.5" cy="107.9" r="1.95" fill="#26c826" stroke="#0a1f0a" stroke-width="1.25"/>
<circle cx="179.4" cy="107.9" r="1.95" fill="#26c826" stroke="#0a1f0a" stroke-width="1.25"/>
<circle cx="183.3" cy="107.9" r="1.95" fill="#26c826" stroke="#0a1f0a" stroke-width="1.25"/>
<circle cx="198.9" cy="113.9" r="1.95" fill="#26c826" stroke="#0a1f0a" stroke-width="1.25"/>
<circle cx="245.6" cy="96.8" r="2.45" fill="#22ee22"/>
<circle cx="253.4" cy="95.5" r="2.45" fill="#22ee22"/>
<circle cx="272.9" cy="101.3" r="2.45" fill="#22ee22"/>
<circle cx="304.0" cy="99.8" r="2.45" fill="#22ee22"/>
<circle cx="300.2" cy="110.5" r="2.45" fill="#22ee22"/>
<circle cx="276.8" cy="114.5" r="2.45" fill="#22ee22"/>
<circle cx="224.6" cy="107.7" r="2.45" fill="#22ee22"/>
<circle cx="191.1" cy="113.9" r="2.45" fill="#22ee22"/>
<circle cx="198.9" cy="109.9" r="2.45" fill="#22ee22"/>
<circle cx="253.4" cy="103.8" r="2.45" fill="#22ee22"/>
<circle cx="206.7" cy="107.1" r="2.45" fill="#22ee22"/>
<circle cx="209.0" cy="112.7" r="2.45" fill="#22ee22"/>
<circle cx="210.6" cy="103.5" r="2.45" fill="#22ee22"/>
<circle cx="214.5" cy="105.3" r="2.45" fill="#22ee22"/>
<circle cx="221.1" cy="107.1" r="2.45" fill="#22ee22"/>
<circle cx="225.4" cy="109.3" r="2.45" fill="#22ee22"/>
<circle cx="230.8" cy="110.5" r="2.45" fill="#22ee22"/>
<circle cx="236.7" cy="106.4" r="2.45" fill="#22ee22"/>
<circle cx="241.7" cy="108.1" r="2.45" fill="#22ee22"/>
<circle cx="245.6" cy="112.7" r="2.45" fill="#22ee22"/>
<circle cx="249.5" cy="113.6" r="2.45" fill="#22ee22"/>
<circle cx="249.5" cy="110.8" r="2.45" fill="#22ee22"/>
<circle cx="253.4" cy="111.7" r="2.45" fill="#22ee22"/>
<circle cx="257.3" cy="109.0" r="2.45" fill="#22ee22"/>
<circle cx="253.4" cy="104.7" r="2.45" fill="#22ee22"/>
<circle cx="269.0" cy="106.2" r="2.45" fill="#22ee22"/>
<circle cx="270.9" cy="110.8" r="2.45" fill="#22ee22"/>
<circle cx="267.4" cy="108.1" r="2.45" fill="#22ee22"/>
<circle cx="234.0" cy="112.7" r="2.45" fill="#22ee22"/>
<circle cx="226.2" cy="111.7" r="2.45" fill="#22ee22"/>
<circle cx="214.5" cy="112.7" r="2.45" fill="#22ee22"/>
<circle cx="202.8" cy="111.7" r="2.45" fill="#22ee22"/>
<circle cx="198.9" cy="72.2" r="2.5" fill="#ee1111"/>
<circle cx="269.0" cy="97.9" r="2.5" fill="#1414b4"/>
<circle cx="261.2" cy="96.1" r="2.15" fill="#fff" stroke="#1a1a1a" stroke-width="1.35"/>
<circle cx="230.1" cy="100.9" r="2.15" fill="#fff" stroke="#1a1a1a" stroke-width="1.35"/>
<circle cx="230.1" cy="103.1" r="2.15" fill="#fff" stroke="#1a1a1a" stroke-width="1.35"/>
<circle cx="265.1" cy="104.9" r="2.15" fill="#fff" stroke="#1a1a1a" stroke-width="1.35"/>
<circle cx="272.9" cy="110.1" r="2.15" fill="#fff" stroke="#1a1a1a" stroke-width="1.35"/>
<circle cx="253.4" cy="109.0" r="2.15" fill="#fff" stroke="#1a1a1a" stroke-width="1.35"/>
<circle cx="245.6" cy="109.0" r="2.15" fill="#fff" stroke="#1a1a1a" stroke-width="1.35"/>
<circle cx="237.9" cy="106.2" r="2.15" fill="#fff" stroke="#1a1a1a" stroke-width="1.35"/>
<circle cx="234.0" cy="110.1" r="2.15" fill="#fff" stroke="#1a1a1a" stroke-width="1.35"/>
<circle cx="234.0" cy="113.8" r="2.15" fill="#fff" stroke="#1a1a1a" stroke-width="1.35"/>
<circle cx="222.3" cy="112.3" r="2.15" fill="#fff" stroke="#1a1a1a" stroke-width="1.35"/>
<circle cx="218.4" cy="110.5" r="2.15" fill="#fff" stroke="#1a1a1a" stroke-width="1.35"/>
<circle cx="210.6" cy="106.8" r="2.15" fill="#fff" stroke="#1a1a1a" stroke-width="1.35"/>
<circle cx="206.7" cy="110.1" r="2.15" fill="#fff" stroke="#1a1a1a" stroke-width="1.35"/>
<circle cx="280.7" cy="110.5" r="2.15" fill="#fff" stroke="#1a1a1a" stroke-width="1.35"/>
<circle cx="304.0" cy="112.7" r="2.15" fill="#fff" stroke="#1a1a1a" stroke-width="1.35"/>
<circle cx="331.3" cy="104.9" r="2.15" fill="#fff" stroke="#1a1a1a" stroke-width="1.35"/>
<circle cx="191.1" cy="106.6" r="2.15" fill="#fff" stroke="#1a1a1a" stroke-width="1.35"/>
<circle cx="217.6" cy="110.5" r="2.15" fill="#fff" stroke="#1a1a1a" stroke-width="1.35"/>
<text transform="translate(1.2 12.7) scale(1.12 1)" font-size="16" font-weight="bold">A</text>
<text transform="translate(1.3 334.6) scale(1.14 1)" font-size="16.4" font-weight="bold">B</text>
<g font-size="15">
<text x="30.6" y="337">HA+</text><text x="84.6" y="337">HA-</text><text x="143.6" y="337">HA+</text><text x="198.2" y="337">HA-</text>
</g>
<defs><linearGradient id="gd" x1="1" y1="0" x2="0" y2="1"><stop offset="0" stop-color="#000" stop-opacity="0.045"/><stop offset="0.6" stop-color="#000" stop-opacity="0"/><stop offset="1" stop-color="#fff" stop-opacity="0.03"/></linearGradient><linearGradient id="gd2" x1="0.6" y1="0" x2="0.2" y2="1"><stop offset="0" stop-color="#000" stop-opacity="0.075"/><stop offset="1" stop-color="#000" stop-opacity="0"/></linearGradient><filter id="bl2" filterUnits="userSpaceOnUse" x="0" y="360" width="260" height="40"><feGaussianBlur stdDeviation="0.75"/></filter><filter id="bl" filterUnits="userSpaceOnUse" x="0" y="360" width="260" height="40"><feGaussianBlur stdDeviation="0.6"/></filter></defs>
<rect x="22.7" y="340.2" width="212" height="80.1" fill="#d7d7d7"/>
<rect x="22.7" y="340.2" width="1.0" height="80.1" fill="#d2d2d2" opacity="0.6"/>
<rect x="25.2" y="340.2" width="2.0" height="80.1" fill="#cfcfcf" opacity="0.6"/>
<rect x="27.2" y="340.2" width="1.5" height="80.1" fill="#d1d1d1" opacity="0.6"/>
<rect x="29.7" y="340.2" width="1.5" height="80.1" fill="#cfcfcf" opacity="0.6"/>
<rect x="33.2" y="340.2" width="1.0" height="80.1" fill="#cfcfcf" opacity="0.6"/>
<rect x="34.2" y="340.2" width="1.2" height="80.1" fill="#dbdbdb" opacity="0.6"/>
<rect x="35.4" y="340.2" width="1.0" height="80.1" fill="#d0d0d0" opacity="0.6"/>
<rect x="38.4" y="340.2" width="1.2" height="80.1" fill="#cfcfcf" opacity="0.6"/>
<rect x="44.4" y="340.2" width="0.8" height="80.1" fill="#dadada" opacity="0.6"/>
<rect x="45.2" y="340.2" width="1.0" height="80.1" fill="#cfcfcf" opacity="0.6"/>
<rect x="50.7" y="340.2" width="1.0" height="80.1" fill="#dfdfdf" opacity="0.6"/>
<rect x="55.2" y="340.2" width="2.0" height="80.1" fill="#d3d3d3" opacity="0.6"/>
<rect x="57.2" y="340.2" width="1.5" height="80.1" fill="#d4d4d4" opacity="0.6"/>
<rect x="59.7" y="340.2" width="0.8" height="80.1" fill="#dfdfdf" opacity="0.6"/>
<rect x="60.5" y="340.2" width="1.5" height="80.1" fill="#cfcfcf" opacity="0.6"/>
<rect x="64.0" y="340.2" width="1.0" height="80.1" fill="#dddddd" opacity="0.6"/>
<rect x="69.7" y="340.2" width="1.5" height="80.1" fill="#dcdcdc" opacity="0.6"/>
<rect x="81.9" y="340.2" width="1.0" height="80.1" fill="#d0d0d0" opacity="0.6"/>
<rect x="82.9" y="340.2" width="1.5" height="80.1" fill="#dbdbdb" opacity="0.6"/>
<rect x="84.9" y="340.2" width="1.0" height="80.1" fill="#d2d2d2" opacity="0.6"/>
<rect x="87.4" y="340.2" width="1.2" height="80.1" fill="#cfcfcf" opacity="0.6"/>
<rect x="95.1" y="340.2" width="1.2" height="80.1" fill="#dcdcdc" opacity="0.6"/>
<rect x="98.6" y="340.2" width="2.0" height="80.1" fill="#d0d0d0" opacity="0.6"/>
<rect x="104.6" y="340.2" width="2.0" height="80.1" fill="#dcdcdc" opacity="0.6"/>
<rect x="107.6" y="340.2" width="2.0" height="80.1" fill="#dadada" opacity="0.6"/>
<rect x="110.6" y="340.2" width="0.8" height="80.1" fill="#dcdcdc" opacity="0.6"/>
<rect x="112.4" y="340.2" width="1.0" height="80.1" fill="#d1d1d1" opacity="0.6"/>
<rect x="114.9" y="340.2" width="0.8" height="80.1" fill="#d4d4d4" opacity="0.6"/>
<rect x="119.2" y="340.2" width="1.2" height="80.1" fill="#dddddd" opacity="0.6"/>
<rect x="120.4" y="340.2" width="1.0" height="80.1" fill="#dcdcdc" opacity="0.6"/>
<rect x="124.9" y="340.2" width="1.2" height="80.1" fill="#dfdfdf" opacity="0.6"/>
<rect x="127.1" y="340.2" width="2.0" height="80.1" fill="#dbdbdb" opacity="0.6"/>
<rect x="130.1" y="340.2" width="2.0" height="80.1" fill="#dadada" opacity="0.6"/>
<rect x="132.6" y="340.2" width="1.0" height="80.1" fill="#d0d0d0" opacity="0.6"/>
<rect x="135.6" y="340.2" width="0.8" height="80.1" fill="#dddddd" opacity="0.6"/>
<rect x="140.4" y="340.2" width="0.8" height="80.1" fill="#d2d2d2" opacity="0.6"/>
<rect x="148.2" y="340.2" width="2.0" height="80.1" fill="#dedede" opacity="0.6"/>
<rect x="152.2" y="340.2" width="2.0" height="80.1" fill="#cfcfcf" opacity="0.6"/>
<rect x="155.7" y="340.2" width="2.0" height="80.1" fill="#dfdfdf" opacity="0.6"/>
<rect x="159.2" y="340.2" width="1.2" height="80.1" fill="#dadada" opacity="0.6"/>
<rect x="161.9" y="340.2" width="0.8" height="80.1" fill="#dddddd" opacity="0.6"/>
<rect x="164.2" y="340.2" width="0.8" height="80.1" fill="#d4d4d4" opacity="0.6"/>
<rect x="165.0" y="340.2" width="1.0" height="80.1" fill="#dcdcdc" opacity="0.6"/>
<rect x="169.3" y="340.2" width="0.8" height="80.1" fill="#d1d1d1" opacity="0.6"/>
<rect x="170.1" y="340.2" width="1.5" height="80.1" fill="#d2d2d2" opacity="0.6"/>
<rect x="176.4" y="340.2" width="0.8" height="80.1" fill="#d0d0d0" opacity="0.6"/>
<rect x="177.7" y="340.2" width="1.5" height="80.1" fill="#dadada" opacity="0.6"/>
<rect x="185.7" y="340.2" width="0.8" height="80.1" fill="#d1d1d1" opacity="0.6"/>
<rect x="188.0" y="340.2" width="1.2" height="80.1" fill="#dddddd" opacity="0.6"/>
<rect x="190.7" y="340.2" width="1.0" height="80.1" fill="#d0d0d0" opacity="0.6"/>
<rect x="194.0" y="340.2" width="1.2" height="80.1" fill="#d3d3d3" opacity="0.6"/>
<rect x="197.2" y="340.2" width="0.8" height="80.1" fill="#d4d4d4" opacity="0.6"/>
<rect x="200.0" y="340.2" width="1.0" height="80.1" fill="#d2d2d2" opacity="0.6"/>
<rect x="203.0" y="340.2" width="0.8" height="80.1" fill="#dedede" opacity="0.6"/>
<rect x="204.8" y="340.2" width="2.0" height="80.1" fill="#d0d0d0" opacity="0.6"/>
<rect x="212.8" y="340.2" width="1.5" height="80.1" fill="#dedede" opacity="0.6"/>
<rect x="224.3" y="340.2" width="1.5" height="80.1" fill="#dddddd" opacity="0.6"/>
<rect x="226.8" y="340.2" width="2.0" height="80.1" fill="#cecece" opacity="0.6"/>
<rect x="228.8" y="340.2" width="1.0" height="80.1" fill="#dddddd" opacity="0.6"/>
<rect x="22.7" y="340.2" width="212" height="80.1" fill="url(#gd)"/>
<rect x="22.7" y="340.3" width="90" height="1.2" fill="#b8b8b8" opacity="0.55"/>
<circle cx="44" cy="348" r="0.7" fill="#999"/>
<circle cx="93" cy="342" r="0.7" fill="#999"/>
<circle cx="99" cy="351" r="0.7" fill="#999"/>
<circle cx="101" cy="352.5" r="0.7" fill="#999"/>
<circle cx="180" cy="368" r="0.7" fill="#999"/>
<circle cx="225" cy="396" r="0.7" fill="#999"/>
<circle cx="212" cy="410" r="0.7" fill="#999"/>
<circle cx="78" cy="402" r="0.7" fill="#999"/>
<circle cx="163" cy="343" r="0.7" fill="#999"/>
<circle cx="204" cy="340.8" r="0.7" fill="#999"/>
<rect x="165" y="340.2" width="69.7" height="40" fill="url(#gd2)"/>
<path d="M29.5 381.3L68.2 379.7" stroke="#7e7e7e" stroke-width="2.9" stroke-linecap="round" filter="url(#bl2)"/>
<g filter="url(#bl)"><rect x="139" y="374.9" width="37" height="6.7" rx="3.3" fill="#0a0a0a"/>
<path d="M190.5 377.2Q207 378.6 223.5 377.4" stroke="#0a0a0a" stroke-width="6.8" stroke-linecap="round" fill="none"/></g>
<text x="235.2" y="384.2" font-size="15.7">Cdc42</text>
<g font-size="15.6" text-anchor="middle">
<text x="67.3" y="434.5">Purified</text><text x="67.3" y="452.9">Palmitoylated</text><text x="69.4" y="471.5">Proteins</text>
<text x="183.3" y="442.1">Inputs</text><text x="185.3" y="460.8">(20&#956;g)</text>
</g>
</svg>
</body></html>
